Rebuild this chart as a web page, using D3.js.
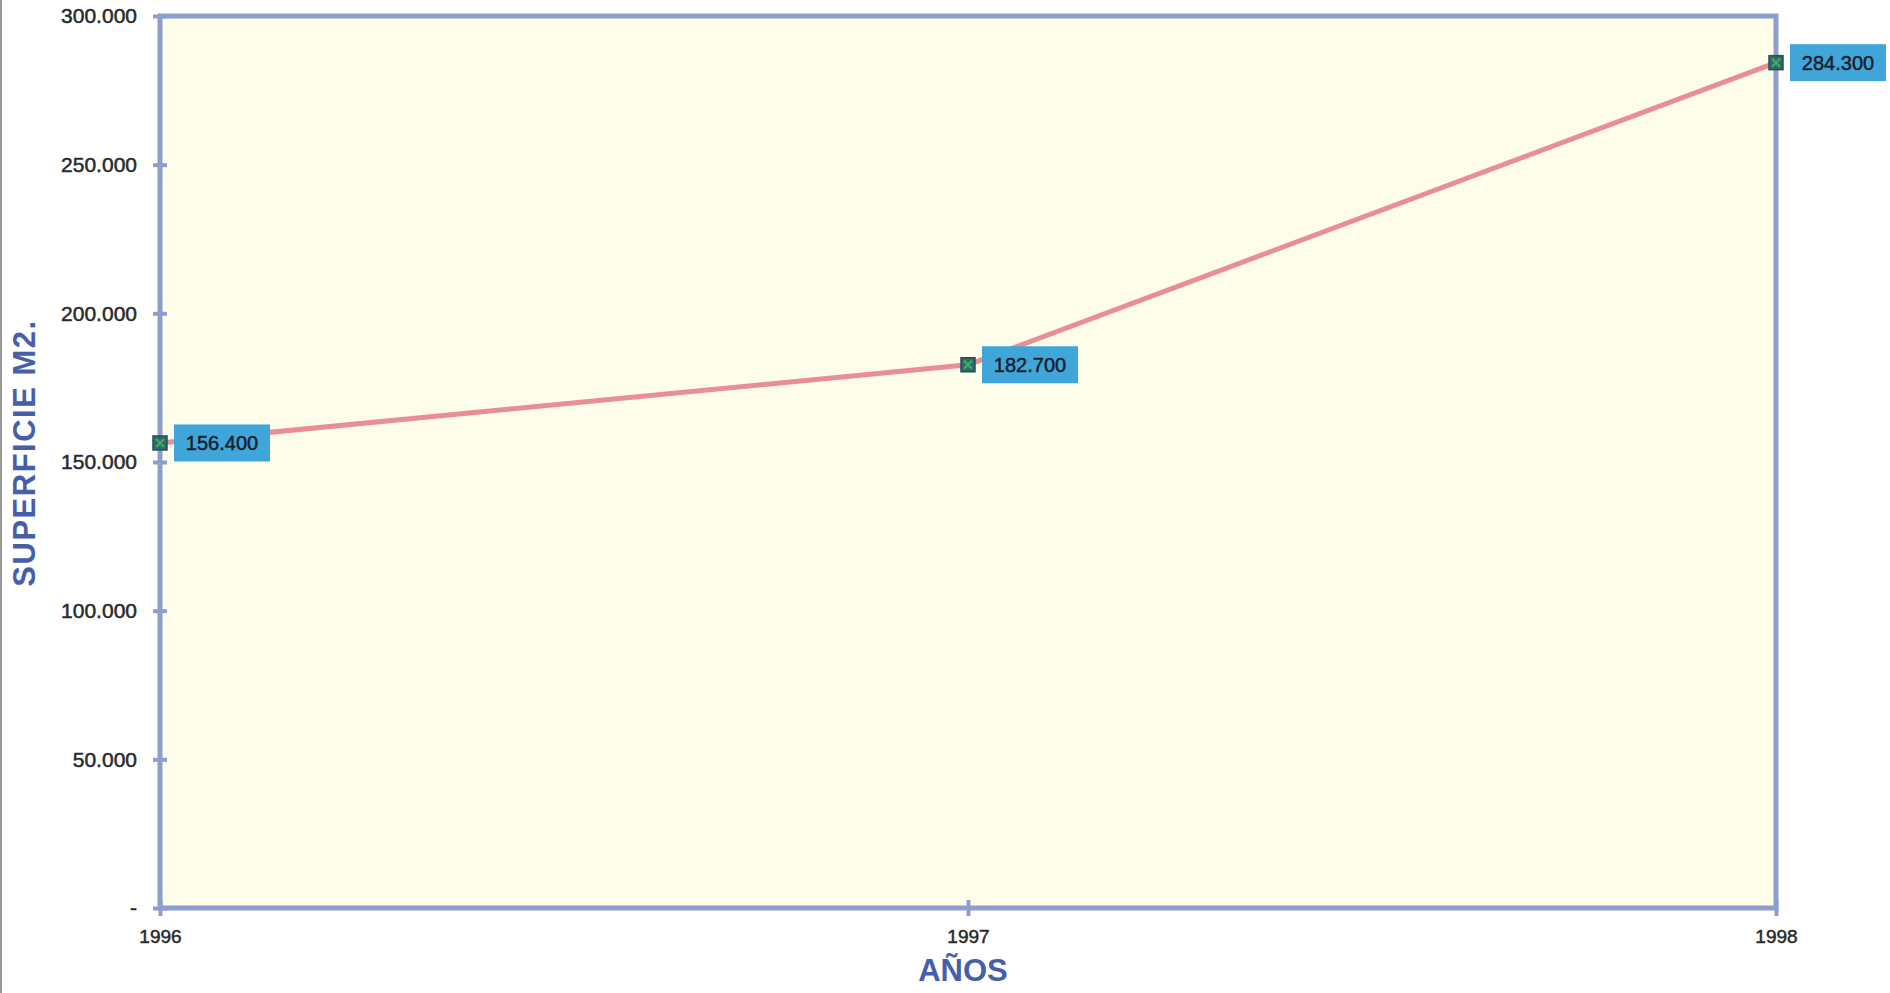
<!DOCTYPE html>
<html>
<head>
<meta charset="utf-8">
<script src="https://cdn.jsdelivr.net/npm/d3@7"></script>
<style>
html,body{margin:0;padding:0;background:#fff;}
svg{display:block;}
text{font-family:"Liberation Sans",Arial,sans-serif;}
</style>
</head>
<body>
<svg id="chart" width="1890" height="993"></svg>
<script>
const years = ["1996", "1997", "1998"];
const superficie = [156400, 182700, 284300];
const yTickValues = [0, 50000, 100000, 150000, 200000, 250000, 300000];
const yTickLabels = ["-", "50.000", "100.000", "150.000", "200.000", "250.000", "300.000"];
const valueLabels = ["156.400", "182.700", "284.300"];
const xTitle = "AÑOS";
const yTitle = "SUPERFICIE  M2.";

const W = 1890, H = 993;
const m = {left:160, right:1776, top:16, bottom:908};
const svg = d3.select("#chart");

const x = d3.scalePoint().domain(years).range([m.left, m.right]);
const y = d3.scaleLinear().domain([0, 300000]).range([m.bottom, m.top]);

// left scan border
svg.append("line").attr("x1",1).attr("x2",1).attr("y1",0).attr("y2",H)
  .attr("stroke","#9a9a9a").attr("stroke-width",2);

// plot background
svg.append("rect").attr("x",m.left).attr("y",m.top)
  .attr("width",m.right-m.left).attr("height",m.bottom-m.top)
  .attr("fill","#fdfdea");

const axisColor = "#8c9fcc";
// frame
svg.append("rect").attr("x",m.left).attr("y",m.top)
  .attr("width",m.right-m.left).attr("height",m.bottom-m.top)
  .attr("fill","none").attr("stroke",axisColor).attr("stroke-width",5);

// y axis
const yAxis = d3.axisLeft(y).tickValues(yTickValues)
  .tickFormat((d,i)=>yTickLabels[i]).tickSize(0).tickPadding(23);
const gy = svg.append("g").attr("transform",`translate(${m.left},0)`).call(yAxis);
gy.select(".domain").remove();
gy.selectAll("text").attr("font-size",21).attr("fill","#2a2a2a")
  .attr("stroke","#2a2a2a").attr("stroke-width",0.5);
gy.selectAll(".tick").append("line").attr("x1",-7).attr("x2",7)
  .attr("stroke",axisColor).attr("stroke-width",4);

// x axis
const xAxis = d3.axisBottom(x).tickSize(0).tickPadding(22);
const gx = svg.append("g").attr("transform",`translate(0,${m.bottom})`).call(xAxis);
gx.select(".domain").remove();
gx.selectAll("text").attr("font-size",19).attr("fill","#2a2a2a")
  .attr("stroke","#2a2a2a").attr("stroke-width",0.5);
gx.selectAll(".tick").append("line").attr("y1",-8).attr("y2",8)
  .attr("stroke",axisColor).attr("stroke-width",4);

// line
const line = d3.line().x((d,i)=>x(years[i])).y(d=>y(d));
svg.append("path").datum(superficie).attr("d",line)
  .attr("fill","none").attr("stroke","#e98e93").attr("stroke-width",5);

// markers
const mk = svg.append("g");
superficie.forEach((v,i)=>{
  const cx = x(years[i]), cy = y(v);
  mk.append("rect").attr("x",cx-7).attr("y",cy-7).attr("width",14).attr("height",14)
    .attr("fill","#2f6e5c").attr("stroke","#2a4a6a").attr("stroke-width",1.5);
  mk.append("path").attr("d",`M${cx-4},${cy-4}L${cx+4},${cy+4}M${cx+4},${cy-4}L${cx-4},${cy+4}`)
    .attr("stroke","#3fae6a").attr("stroke-width",2);
});

// value labels
const lab = svg.append("g");
superficie.forEach((v,i)=>{
  const cx = x(years[i]), cy = y(v);
  const bx = cx + 14, bw = 96, bh = 37;
  lab.append("rect").attr("x",bx).attr("y",cy-bh/2).attr("width",bw).attr("height",bh)
    .attr("fill","#40a6da");
  lab.append("text").attr("x",bx+bw/2).attr("y",cy+7).attr("text-anchor","middle")
    .attr("font-size",20).attr("fill","#1a1f2e")
    .attr("stroke","#1a1f2e").attr("stroke-width",0.5).text(valueLabels[i]);
});

// titles
svg.append("text").attr("x",963).attr("y",981)
  .attr("text-anchor","middle").attr("font-size",31).attr("font-weight","bold")
  .attr("fill","#4560a8").text(xTitle);
svg.append("text").attr("transform",`translate(35,${453}) rotate(-90)`)
  .attr("text-anchor","middle").attr("font-size",31).attr("font-weight","bold")
  .attr("letter-spacing","1.5px")
  .attr("fill","#4560a8").text(yTitle);
</script>
</body>
</html>
